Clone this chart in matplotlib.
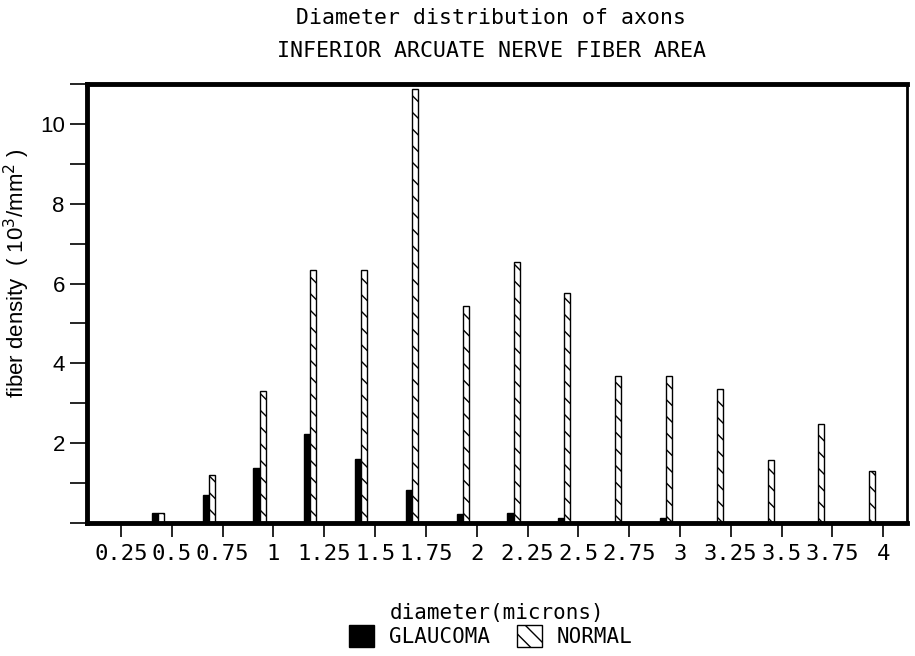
import numpy as np
import matplotlib.pyplot as plt
from matplotlib.patches import Patch
from matplotlib.ticker import MultipleLocator

# diameter classes (microns) and fiber densities (10^3/mm^2)
diameters = ['0.25', '0.5', '0.75', '1', '1.25', '1.5', '1.75', '2',
             '2.25', '2.5', '2.75', '3', '3.25', '3.5', '3.75', '4']
glaucoma = [0, 0.25, 0.7, 1.38, 2.22, 1.61, 0.83, 0.23,
            0.25, 0.12, 0, 0.12, 0, 0, 0, 0]
normal = [0, 0.25, 1.21, 3.3, 6.33, 6.33, 10.88, 5.44,
          6.55, 5.77, 3.68, 3.68, 3.37, 1.59, 2.49, 1.31]

mono = 'DejaVu Sans Mono'
sans = 'Liberation Sans'
plt.rcParams['hatch.linewidth'] = 1.0

fig = plt.figure(figsize=(9.15, 6.56), dpi=100)
ax = fig.add_axes([0.0951, 0.2027, 0.8962, 0.6693])

x = np.arange(len(diameters))
w = 0.12
ax.bar(x - 0.395, glaucoma, width=w, align='edge', color='black',
       edgecolor='black', linewidth=1)
ax.bar(x - 0.275, normal, width=w, align='edge', color='white',
       edgecolor='black', linewidth=1, hatch='\\\\')

ax.set_xlim(-0.67, 15.47)
ax.set_ylim(0, 11)

ax.set_xticks(x)
ax.set_xticklabels(diameters, fontfamily=mono, fontsize=16)
ax.set_yticks([0, 2, 4, 6, 8, 10])
ax.set_yticklabels(['', '2', '4', '6', '8', '10'], fontfamily=sans, fontsize=16)
ax.yaxis.set_minor_locator(MultipleLocator(1))
ax.tick_params(axis='y', which='both', direction='out', length=12, width=1.2, pad=4)
ax.tick_params(axis='x', direction='out', length=10, width=1.2, pad=5)

for side in ['left', 'top', 'bottom']:
    ax.spines[side].set_linewidth(3.5)
ax.spines['right'].set_linewidth(2)

ax.set_ylabel('fiber density  ( 10$^3$/mm$^2$ )', fontfamily=sans, fontsize=16,
              labelpad=6, y=0.57)
ax.set_xlabel('diameter(microns)', fontfamily=mono, fontsize=15, labelpad=28)

fig.text(0.537, 0.972, 'Diameter distribution of axons', fontfamily=mono,
         fontsize=15.5, ha='center', va='center')
fig.text(0.537, 0.923, 'INFERIOR ARCUATE NERVE FIBER AREA', fontfamily=mono,
         fontsize=15.5, ha='center', va='center')

handles = [Patch(facecolor='black', edgecolor='black', label='GLAUCOMA'),
           Patch(facecolor='white', edgecolor='black', hatch='\\\\', label='NORMAL')]
fig.legend(handles=handles, loc='center', bbox_to_anchor=(0.536, 0.03), ncol=2,
           frameon=False, prop={'family': mono, 'size': 15},
           handlelength=1.2, handleheight=1.2, handletextpad=0.7, columnspacing=1.3)

fig.savefig('out.png', dpi=100)
